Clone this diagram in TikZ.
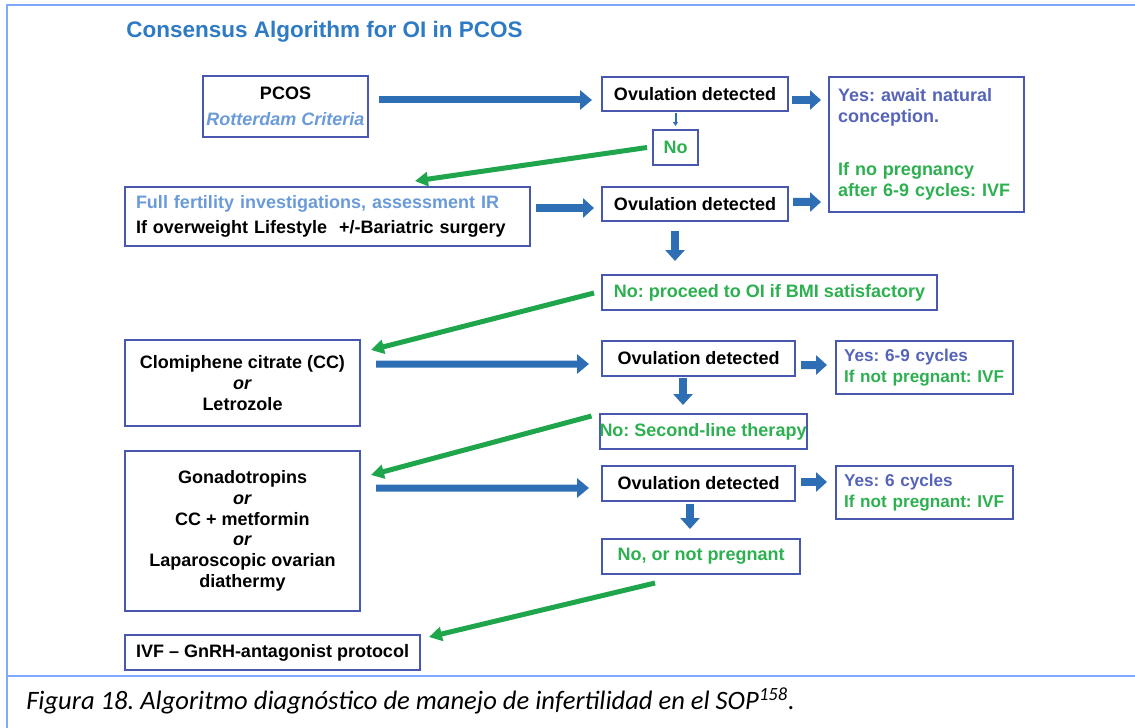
\documentclass[tikz,border=0pt]{standalone}
\usepackage{fontspec}
\setmainfont{Liberation Sans}
\newfontfamily\capfont{Carlito}
\usetikzlibrary{arrows.meta}
\frenchspacing

\newlength\pxu
\setlength\pxu{0.025cm}

\definecolor{cajaazul}{RGB}{72,88,176}
\definecolor{flechaazul}{RGB}{46,110,181}
\definecolor{flechaverde}{RGB}{31,165,75}
\definecolor{textoverde}{RGB}{44,176,80}
\definecolor{textoazul}{RGB}{85,100,185}
\definecolor{textoceleste}{RGB}{106,155,216}
\definecolor{tituloazul}{RGB}{46,123,196}
\definecolor{marco}{RGB}{127,168,255}

\newcommand\cajafont{\fontsize{12.8}{14.7}\selectfont\bfseries}

\tikzset{
  caja/.style 2 args={draw=cajaazul, line width=2\pxu, inner sep=0pt, align=center,
    font=\cajafont, minimum width=#1\pxu, minimum height=#2\pxu},
  cajasi/.style={caja={177}{53}, align=left, text width=161\pxu, inner xsep=8\pxu,
    font=\fontsize{12.2}{14.7}\selectfont\bfseries},
  flechalarga/.style={draw=flechaazul, line width=7\pxu,
    -{Triangle[length=8.5pt,width=13.5pt]}},
  flechacorta/.style={draw=flechaazul, line width=8\pxu,
    -{Triangle[length=7.8pt,width=13.5pt]}},
  flechafina/.style={draw=flechaazul, line width=2\pxu,
    -{Triangle[length=2.8pt,width=3.5pt]}},
  flechaverde/.style={draw=flechaverde, line width=5\pxu,
    -{Triangle[length=9.2pt,width=9.9pt]}}
}

\begin{document}
\begin{tikzpicture}[x=1\pxu, y=-1\pxu]
  \useasboundingbox (0,0) rectangle (1135,728);

  % Marco y pie
  \draw[marco, line width=2\pxu] (7,728) -- (7,5) -- (1135,5);
  \draw[marco, line width=2\pxu] (7,676) -- (1135,676);

  % Titulo
  \node[anchor=west, inner sep=0pt, text=tituloazul, font=\fontsize{16}{19}\selectfont\bfseries]
    (titulo) at (126,32) {Consensus Algorithm for OI in PCOS};

  % Columna izquierda
  \node[caja={165}{61}] (pcos) at (285.5,106.5)
    {PCOS\\[3.5pt]\textcolor{textoceleste}{\itshape Rotterdam Criteria}};
  \node[caja={405}{59}, align=left, text width=383\pxu, inner xsep=11\pxu] (estudio) at (327.5,216.5)
    {\textcolor{textoceleste}{Full fertility investigations, assessment IR}\\[3.5pt]
     If overweight Lifestyle\ \ +/-Bariatric surgery};
  \node[caja={235}{86}] (clomifeno) at (242.5,383)
    {Clomiphene citrate (CC)\\\textit{or}\\Letrozole};
  \node[caja={235}{160}] (gonado) at (242.5,531)
    {Gonadotropins\\\textit{or}\\CC + metformin\\\textit{or}\\Laparoscopic ovarian\\diathermy};
  \node[caja={295}{35}] (fiv) at (272.5,652.5) {IVF -- GnRH-antagonist protocol};

  % Columna central
  \node[caja={186}{34}] (ovu1) at (695,94) {Ovulation detected};
  \node[caja={45}{35}, text=textoverde] (no1) at (675.5,147.5) {No};
  \node[caja={186}{34}] (ovu2) at (695,204) {Ovulation detected};
  \node[caja={335}{35}, text=textoverde] (noimc) at (769.5,292.5) {No: proceed to OI if BMI satisfactory};
  \node[caja={193}{35}] (ovu3) at (698.5,358.5) {Ovulation detected};
  \node[caja={202}{35}, text=textoverde] (nosegunda) at (703,431.5) {No: Second-line therapy};
  \node[caja={193}{35}] (ovu4) at (698.5,483.5) {Ovulation detected};
  \node[caja={198}{35}, text=textoverde] (noembarazo) at (701,556.5) {No, or not pregnant};

  % Columna derecha
  \node[caja={195}{135}, align=left, text width=177\pxu, inner xsep=9\pxu] (si1) at (926.5,144.5)
    {\textcolor{textoazul}{Yes: await natural\\conception.}\\[33\pxu]
     \textcolor{textoverde}{If no pregnancy\\after 6-9 cycles: IVF}};
  \node[cajasi] (si2) at (924.5,367.5)
    {\textcolor{textoazul}{Yes: 6-9 cycles}\\\mbox{\textcolor{textoverde}{If not pregnant: IVF}}};
  \node[cajasi] (si3) at (924.5,492.5)
    {\textcolor{textoazul}{Yes: 6 cycles}\\\mbox{\textcolor{textoverde}{If not pregnant: IVF}}};

  % Flechas azules
  \draw[flechalarga] ([shift={(10,-6.5)}]pcos.east) -- ([shift={(-9,6)}]ovu1.west);
  \draw[flechacorta] ([shift={(3,6)}]ovu1.east) -- ([shift={(-7,-44.5)}]si1.west);
  \draw[flechafina] ([yshift=-1\pxu]no1.north |- ovu1.south) -- ([yshift=3\pxu]no1.north);
  \draw[flechacorta] ([shift={(5,-8.5)}]estudio.east) -- ([shift={(-7,4)}]ovu2.west);
  \draw[flechacorta] ([shift={(4,-2)}]ovu2.east) -- ([shift={(-7,57.5)}]si1.west);
  \draw[flechacorta] ([shift={(-20,9)}]ovu2.south) -- ([shift={(-94.5,-13)}]noimc.north);
  \draw[flechalarga] ([shift={(15,-19)}]clomifeno.east) -- ([shift={(-12,5.5)}]ovu3.west);
  \draw[flechacorta] ([shift={(5,6.5)}]ovu3.east) -- ([shift={(-8,-2.5)}]si2.west);
  \draw[flechacorta] ([shift={(-15.5,1)}]ovu3.south) -- ([shift={(-20,-8)}]nosegunda.north);
  \draw[flechalarga] ([shift={(15,-43)}]gonado.east) -- ([shift={(-12,4.5)}]ovu4.west);
  \draw[flechacorta] ([shift={(5,-1.5)}]ovu4.east) -- ([shift={(-8,-10.5)}]si3.west);
  \draw[flechacorta] ([shift={(-8.5,2)}]ovu4.south) -- ([shift={(-11,-9)}]noembarazo.north);

  % Flechas verdes
  \draw[flechaverde] ([shift={(-5,0)}]no1.west) -- ([shift={(87.5,-5)}]estudio.north);
  \draw[flechaverde] ([shift={(-7,0.5)}]noimc.west) -- ([shift={(10,-33)}]clomifeno.east);
  \draw[flechaverde] ([shift={(-7,-15.5)}]nosegunda.west) -- ([shift={(10,-56)}]gonado.east);
  \draw[flechaverde] ([shift={(-46,8)}]noembarazo.south) -- ([shift={(8,-15.5)}]fiv.east);

  % Pie de figura
  \node[anchor=west, inner sep=0pt, font=\capfont\itshape\fontsize{18.9}{21}\selectfont]
    (pie) at (26,701) {Figura 18. Algoritmo diagnóstico de manejo de infertilidad en el SOP\textsuperscript{158}.};
\end{tikzpicture}
\end{document}
